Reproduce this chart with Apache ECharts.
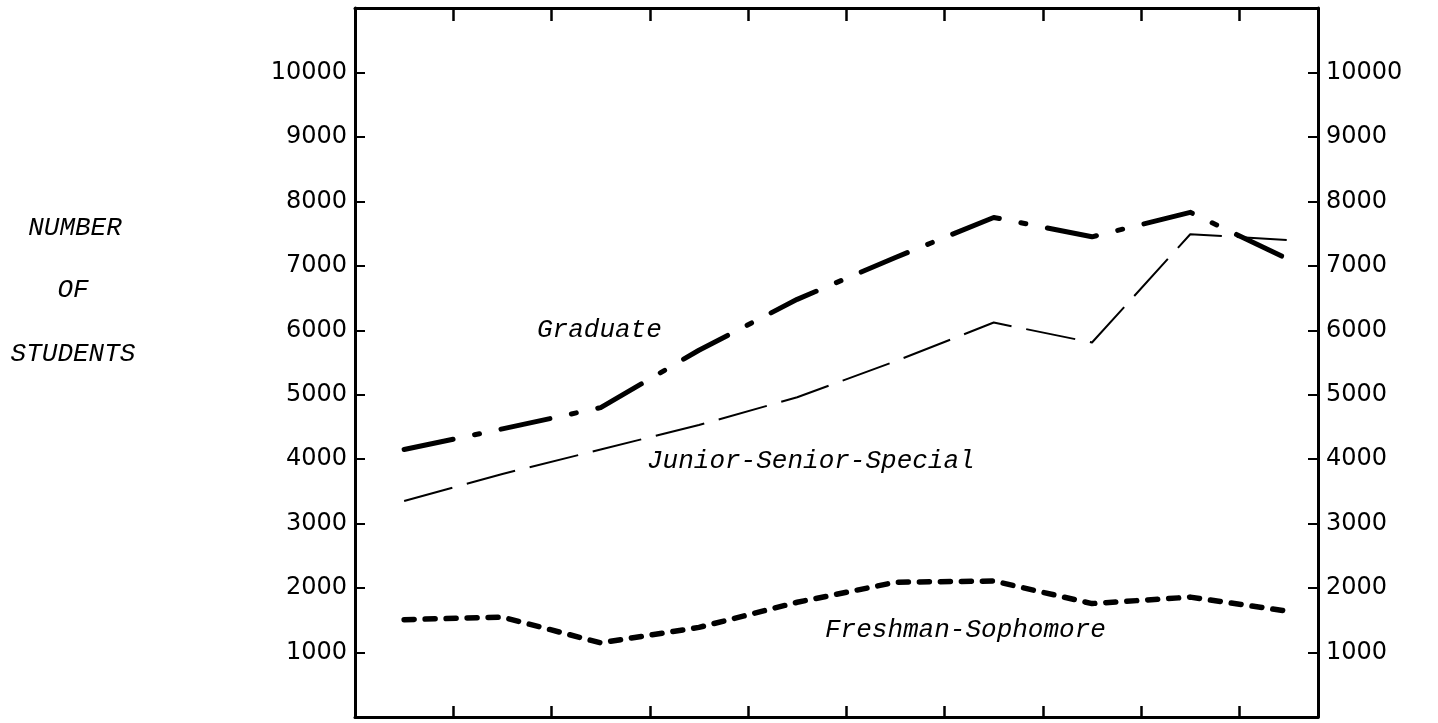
<!DOCTYPE html>
<html>
<head>
<meta charset="utf-8">
<title>Number of students</title>
<script src="https://cdn.jsdelivr.net/npm/echarts@6/dist/echarts.min.js"></script>
<style>
  html, body { margin: 0; padding: 0; background: #fff; }
  #enrollment-chart { width: 1438px; height: 723px; }
</style>
</head>
<body>
<div id="enrollment-chart"></div>
<script>
// ten yearly points (no year labels in the original)
const yearSlots = [0, 1, 2, 3, 4, 5, 6, 7, 8, 9];
const graduate = [4150, 4470, 4800, 5690, 6480, 7130, 7750, 7450, 7830, 7100];
const juniorSeniorSpecial = [3350, 3770, 4150, 4530, 4960, 5520, 6120, 5810, 7490, 7400];
const freshmanSophomore = [1510, 1550, 1150, 1390, 1780, 2090, 2110, 1760, 1860, 1640];

const yTicks = [1000, 2000, 3000, 4000, 5000, 6000, 7000, 8000, 9000, 10000];
const xTicks = [1, 2, 3, 4, 5, 6, 7, 8, 9];

const labelFont = 'italic 26px "Liberation Mono", "DejaVu Sans Mono", monospace';

// points sit in the middle of each year band, ticks on the band edges
const toPoints = (values) => yearSlots.map((k, i) => [k + 0.5, values[i]]);

const frameLine = {show: true, onZero: false, lineStyle: {color: '#000', width: 3}};

const xAxisBase = (position, tickLen) => ({
  type: 'value',
  position: position,
  min: 0,
  max: 9.8,
  axisLine: frameLine,
  axisTick: {show: true, inside: true, length: tickLen, customValues: xTicks,
    lineStyle: {color: '#000', width: 2.5}},
  axisLabel: {show: false},
  splitLine: {show: false}
});

const yAxisBase = (position) => ({
  type: 'value',
  position: position,
  min: 0,
  max: 11000,
  interval: 1000,
  axisLine: frameLine,
  axisTick: {show: true, inside: true, length: 10, customValues: yTicks,
    lineStyle: {color: '#000', width: 2}},
  axisLabel: {customValues: yTicks, margin: 8, color: '#000',
    fontFamily: '"DejaVu Sans", Verdana, sans-serif', fontSize: 24,
    formatter: (v) => String(v)},
  splitLine: {show: false}
});

let chart = echarts.init(document.getElementById('enrollment-chart'));
chart.setOption({
  animation: false,
  backgroundColor: '#fff',
  grid: {left: 355, top: 8, width: 963, height: 709, containLabel: false},
  xAxis: [xAxisBase('bottom', 11), xAxisBase('top', 13)],
  yAxis: [yAxisBase('left'), yAxisBase('right')],
  series: [
    {
      name: 'Graduate',
      type: 'line',
      symbol: 'none',
      data: toPoints(graduate),
      lineStyle: {color: '#000', width: 5, type: [50, 22, 5, 22], cap: 'round', join: 'round'}
    },
    {
      name: 'Junior-Senior-Special',
      type: 'line',
      symbol: 'none',
      data: toPoints(juniorSeniorSpecial),
      lineStyle: {color: '#000', width: 2, type: [50, 15], cap: 'butt', join: 'round'}
    },
    {
      name: 'Freshman-Sophomore',
      type: 'line',
      symbol: 'none',
      data: toPoints(freshmanSophomore),
      lineStyle: {color: '#000', width: 5.5, type: [10, 11], cap: 'round', join: 'round'}
    }
  ],
  graphic: [
    {type: 'text', x: 75, y: 228, style: {text: 'NUMBER', font: labelFont, fill: '#000', align: 'center', verticalAlign: 'middle'}},
    {type: 'text', x: 73, y: 290, style: {text: 'OF', font: labelFont, fill: '#000', align: 'center', verticalAlign: 'middle'}},
    {type: 'text', x: 73, y: 354, style: {text: 'STUDENTS', font: labelFont, fill: '#000', align: 'center', verticalAlign: 'middle'}},
    {type: 'text', x: 537, y: 330, style: {text: 'Graduate', font: labelFont, fill: '#000', verticalAlign: 'middle'}},
    {type: 'text', x: 647, y: 461, style: {text: 'Junior-Senior-Special', font: labelFont, fill: '#000', verticalAlign: 'middle'}},
    {type: 'text', x: 825, y: 630, style: {text: 'Freshman-Sophomore', font: labelFont, fill: '#000', verticalAlign: 'middle'}}
  ]
});

window.onresize = () => {
  chart && chart.resize();
};
</script>
</body>
</html>
